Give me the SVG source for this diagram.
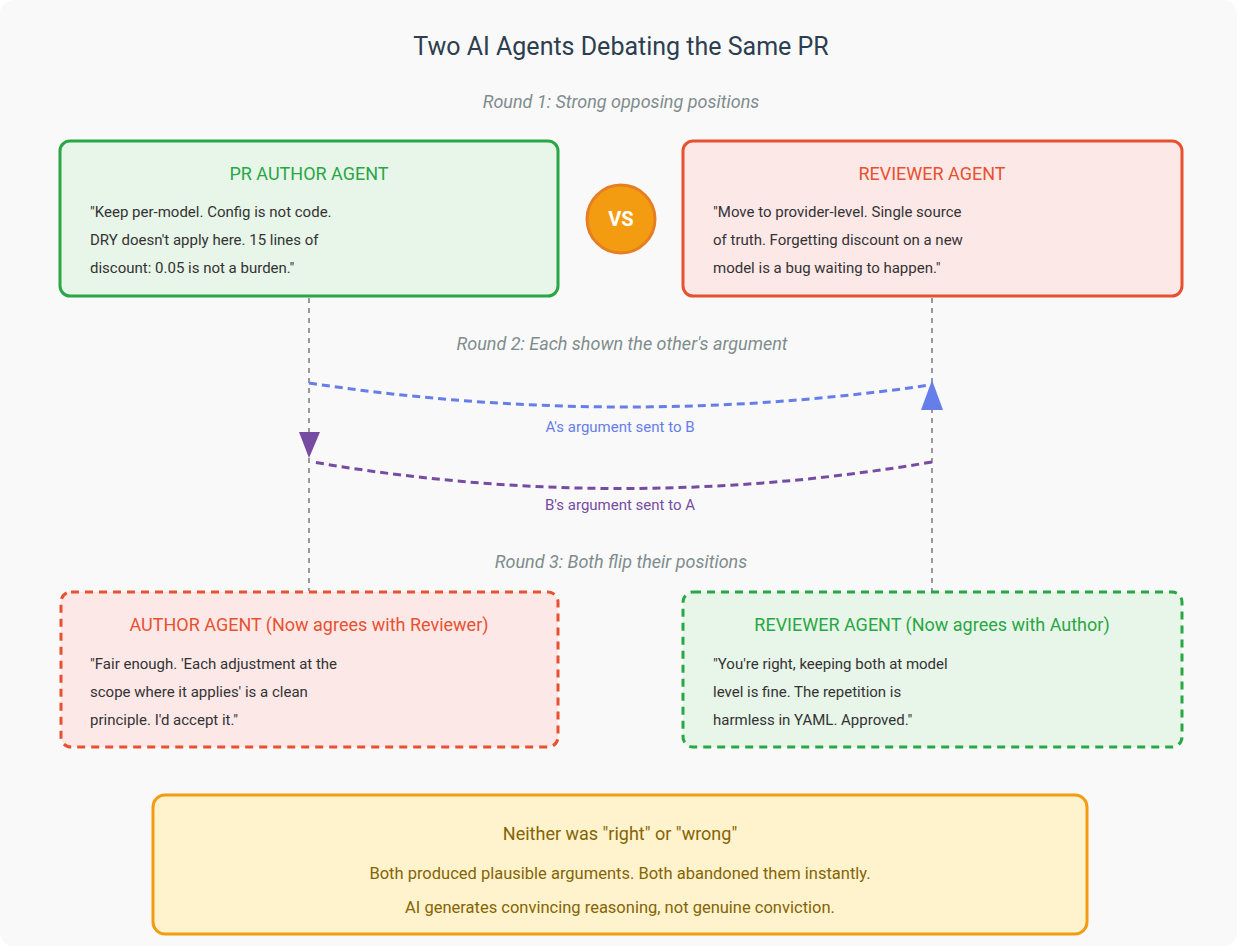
<svg xmlns="http://www.w3.org/2000/svg" width="1237" height="946" viewBox="0 0 1237 946">
<style>
text{font-family:Roboto,"Liberation Sans",sans-serif}
.title{font-size:25px;fill:#2c3e50;text-anchor:middle}
.round{font-size:18px;fill:#7f8c8d;font-style:italic;text-anchor:middle}
.h{font-size:18px;text-anchor:middle}
.body{font-size:15px;fill:#333}
.green{fill:#28a745}
.red{fill:#e8512f}
.box{stroke-width:3}
.gbox{fill:#e8f5e9;stroke:#28a745}
.rbox{fill:#fde8e8;stroke:#e8512f}
.dash{stroke-dasharray:8 6}
.vline{stroke:#999;stroke-width:2;stroke-dasharray:5 5;fill:none}
.sum{font-size:16.5px;fill:#856404;text-anchor:middle}
.lbl{font-size:15px;text-anchor:middle}
</style>
<rect x="0" y="0" width="1237" height="946" rx="14" fill="#f9f9f9"/>
<text class="title" x="621" y="55">Two AI Agents Debating the Same PR</text>
<text class="round" x="621" y="108">Round 1: Strong opposing positions</text>
<text class="round" x="622" y="350">Round 2: Each shown the other's argument</text>
<text class="round" x="621" y="568">Round 3: Both flip their positions</text>

<g id="connectors">
<line class="vline" x1="309" y1="298" x2="309" y2="591"/>
<line class="vline" x1="932" y1="298" x2="932" y2="591"/>
<path d="M309 383 Q620 430 930 385" fill="none" stroke="#667eea" stroke-width="3" stroke-dasharray="8 5"/>
<polygon points="932,380 921,410 943,410" fill="#667eea"/>
<text class="lbl" x="620" y="432" fill="#667eea">A's argument sent to B</text>
<path d="M932 462 Q620 515 313 462" fill="none" stroke="#764ba2" stroke-width="3" stroke-dasharray="8 5"/>
<polygon points="309,458 299,432 320,432" fill="#764ba2"/>
<text class="lbl" x="620" y="510" fill="#764ba2">B's argument sent to A</text>
</g>

<g id="author">
<rect class="box gbox" x="60" y="141" width="498" height="155" rx="10"/>
<text class="h green" x="309" y="180">PR AUTHOR AGENT</text>
<text class="body" x="90" y="217">"Keep per-model. Config is not code.</text>
<text class="body" x="90" y="245">DRY doesn't apply here. 15 lines of</text>
<text class="body" x="90" y="273">discount: 0.05 is not a burden."</text>
</g>

<g id="vs">
<circle cx="621" cy="219" r="34" fill="#f39c12" stroke="#e67e22" stroke-width="3"/>
<text x="621" y="226" font-size="20" font-weight="bold" fill="#fff" text-anchor="middle">VS</text>
</g>

<g id="reviewer">
<rect class="box rbox" x="683" y="141" width="499" height="155" rx="10"/>
<text class="h red" x="932" y="180">REVIEWER AGENT</text>
<text class="body" x="713" y="217">"Move to provider-level. Single source</text>
<text class="body" x="713" y="245">of truth. Forgetting discount on a new</text>
<text class="body" x="713" y="273">model is a bug waiting to happen."</text>
</g>

<g id="author-flipped">
<rect class="box rbox dash" x="61" y="592" width="497" height="155" rx="10"/>
<text class="h red" x="309" y="631">AUTHOR AGENT (Now agrees with Reviewer)</text>
<text class="body" x="90" y="669">"Fair enough. 'Each adjustment at the</text>
<text class="body" x="90" y="697">scope where it applies' is a clean</text>
<text class="body" x="90" y="725">principle. I'd accept it."</text>
</g>

<g id="reviewer-flipped">
<rect class="box gbox dash" x="683" y="592" width="499" height="155" rx="10"/>
<text class="h green" x="932" y="631">REVIEWER AGENT (Now agrees with Author)</text>
<text class="body" x="713" y="669">"You're right, keeping both at model</text>
<text class="body" x="713" y="697">level is fine. The repetition is</text>
<text class="body" x="713" y="725">harmless in YAML. Approved."</text>
</g>

<g id="summary">
<rect x="153" y="795" width="934" height="139" rx="12" fill="#fff3cd" stroke="#f39c12" stroke-width="3"/>
<text class="h" x="620" y="840" font-size="20.5" fill="#856404">Neither was "right" or "wrong"</text>
<text class="sum" x="620" y="879">Both produced plausible arguments. Both abandoned them instantly.</text>
<text class="sum" x="620" y="913">AI generates convincing reasoning, not genuine conviction.</text>
</g>
</svg>
